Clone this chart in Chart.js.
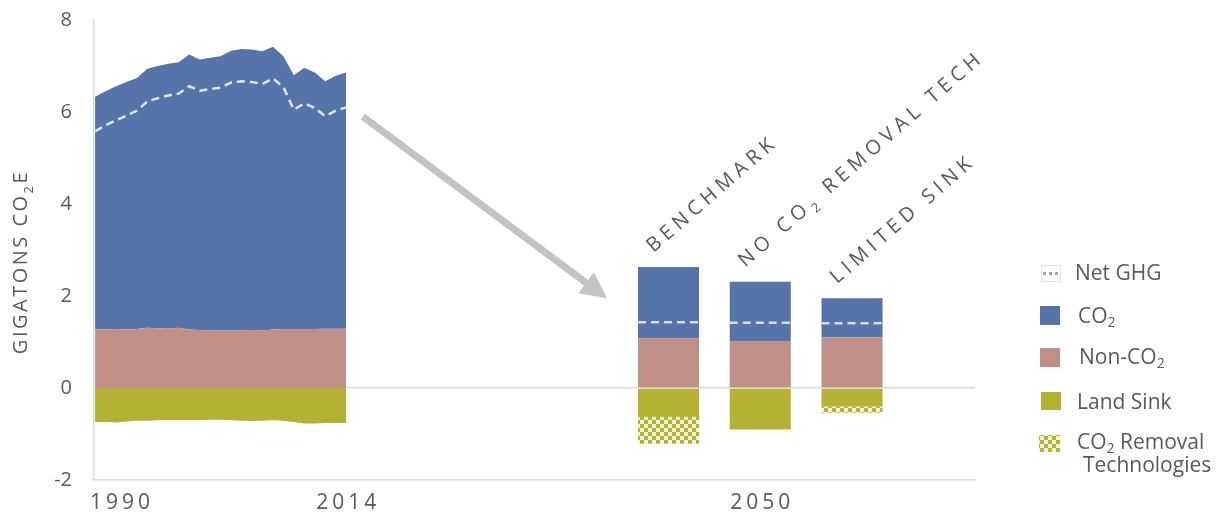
<!DOCTYPE html>
<html>
<head>
<meta charset="utf-8">
<script src="https://cdn.jsdelivr.net/npm/chart.js@4.4.1/dist/chart.umd.min.js"></script>
<style>
  html, body { margin: 0; padding: 0; background: #fff; }
  #wrap { width: 1218px; height: 516px; }
</style>
</head>
<body>
<div id="wrap"><canvas id="myChart" width="1218" height="516"></canvas></div>
<script>
// historical emissions, gigatons CO2e
var years = [1990, 1991, 1992, 1993, 1994, 1995, 1996, 1997, 1998, 1999, 2000, 2001, 2002,
             2003, 2004, 2005, 2006, 2007, 2008, 2009, 2010, 2011, 2012, 2013, 2014];
var histNonCO2 = [1.27, 1.27, 1.28, 1.27, 1.28, 1.31, 1.30, 1.29, 1.31, 1.27, 1.26, 1.25, 1.25,
                  1.25, 1.25, 1.26, 1.25, 1.27, 1.28, 1.28, 1.28, 1.28, 1.29, 1.29, 1.29];
var histCO2 = [5.06, 5.18, 5.28, 5.38, 5.46, 5.63, 5.70, 5.76, 5.77, 5.98, 5.88, 5.93, 5.96,
               6.08, 6.12, 6.10, 6.07, 6.15, 5.93, 5.52, 5.68, 5.58, 5.38, 5.50, 5.57];
var histLandSink = [-0.74, -0.74, -0.75, -0.73, -0.71, -0.71, -0.70, -0.70, -0.70, -0.70, -0.70, -0.69, -0.69,
                    -0.70, -0.71, -0.72, -0.71, -0.70, -0.71, -0.74, -0.77, -0.77, -0.76, -0.76, -0.76];
var histNet = [5.58, 5.71, 5.82, 5.92, 6.03, 6.23, 6.30, 6.36, 6.40, 6.56, 6.46, 6.50, 6.53,
               6.64, 6.67, 6.65, 6.61, 6.73, 6.54, 6.05, 6.19, 6.09, 5.91, 6.03, 6.10];

// 2050 scenarios
var scenarios = [['BENCHMARK'], ['NO CO', '_2', ' REMOVAL TECH'], ['LIMITED SINK']];
var scenNonCO2 = [1.08, 1.02, 1.10];
var scenCO2 = [1.55, 1.29, 0.85];
var scenLandSink = [-0.63, -0.90, -0.40];
var scenRemoval = [-0.58, 0, -0.14];
var scenNet = [1.43, 1.42, 1.41];

var xLabels = ['1990', '2014', '2050'];

var C_CO2 = '#5674a9';
var C_NON = '#c09088';
var C_LAND = '#b3b235';
var TEXT = '#595959';
var FONT = '"Open Sans", sans-serif';

function checker() {
    var c = document.createElement('canvas');
    c.width = 8; c.height = 8;
    var g = c.getContext('2d');
    g.fillStyle = '#f2f2d6';
    g.fillRect(0, 0, 8, 8);
    g.fillStyle = C_LAND;
    g.fillRect(0, 0, 4, 4);
    g.fillRect(4, 4, 4, 4);
    return g.createPattern(c, 'repeat');
}
var pattern = checker();

function pts(vals) {
    var out = [];
    for (var i = 0; i < years.length; i++) out.push({x: years[i], y: vals[i]});
    return out;
}
function scen(vals) {
    var out = [];
    for (var i = 0; i < vals.length; i++) out.push({x: i, y: vals[i]});
    return out;
}

// text with subscript parts ('_' prefix)
function drawRich(ctx, parts, x, y, size, spacing) {
    ctx.letterSpacing = spacing + 'px';
    var cx = x;
    for (var i = 0; i < parts.length; i++) {
        var p = parts[i];
        if (p.charAt(0) === '_') {
            ctx.font = Math.round(size * 0.65) + 'px ' + FONT;
            ctx.fillText(p.substring(1), cx, y + size * 0.28);
            cx += ctx.measureText(p.substring(1)).width;
        } else {
            ctx.font = size + 'px ' + FONT;
            ctx.fillText(p, cx, y);
            cx += ctx.measureText(p).width;
        }
    }
    ctx.letterSpacing = '0px';
}

var extras = {
    id: 'extras',
    afterDatasetsDraw: function (chart) {
        var ctx = chart.ctx;
        var x = chart.scales.x, x2 = chart.scales.x2, y = chart.scales.y;
        ctx.save();

        // net GHG dashes on the scenario bars
        var meta = chart.getDatasetMeta(5);
        ctx.strokeStyle = '#dcdcdc';
        ctx.lineWidth = 2.5;
        ctx.setLineDash([8, 5]);
        for (var i = 0; i < meta.data.length; i++) {
            var el = meta.data[i];
            var yy = y.getPixelForValue(scenNet[i]);
            ctx.beginPath();
            ctx.moveTo(el.x - el.width / 2, yy);
            ctx.lineTo(el.x + el.width / 2 + (i === 2 ? 3 : 0), yy);
            ctx.stroke();
        }
        ctx.setLineDash([]);

        // arrow from history to scenarios
        var ax = x.getPixelForValue(2015.6), ay = y.getPixelForValue(5.9);
        var bx = x2.getPixelForValue(-0.67), by = y.getPixelForValue(1.95);
        var ang = Math.atan2(by - ay, bx - ax);
        var head = 26;
        ctx.strokeStyle = '#c3c3c3';
        ctx.fillStyle = '#c3c3c3';
        ctx.lineWidth = 7;
        ctx.beginPath();
        ctx.moveTo(ax, ay);
        ctx.lineTo(bx - Math.cos(ang) * head * 0.8, by - Math.sin(ang) * head * 0.8);
        ctx.stroke();
        ctx.beginPath();
        ctx.moveTo(bx, by);
        ctx.lineTo(bx - Math.cos(ang) * head + Math.sin(ang) * 13, by - Math.sin(ang) * head - Math.cos(ang) * 13);
        ctx.lineTo(bx - Math.cos(ang) * head - Math.sin(ang) * 13, by - Math.sin(ang) * head + Math.cos(ang) * 13);
        ctx.closePath();
        ctx.fill();

        // x labels
        ctx.fillStyle = TEXT;
        ctx.textBaseline = 'alphabetic';
        ctx.textAlign = 'left';
        ctx.font = '21px ' + FONT;
        ctx.letterSpacing = '4px';
        var lx = [chart.chartArea.left - 4, x.getPixelForValue(2014), x2.getPixelForValue(1)];
        for (var k = 0; k < xLabels.length; k++) {
            var w = ctx.measureText(xLabels[k]).width - 4;
            var left = k === 0 ? lx[k] : lx[k] - w / 2;
            ctx.fillText(xLabels[k], left, 509);
        }
        ctx.letterSpacing = '0px';

        // y title
        ctx.save();
        ctx.translate(27, 262);
        ctx.rotate(-Math.PI / 2);
        var tParts = ['GIGATONS CO', '_2', 'E'];
        ctx.font = '20px ' + FONT;
        ctx.letterSpacing = '2.5px';
        var tw = ctx.measureText('GIGATONS CO').width + ctx.measureText('E').width;
        ctx.font = '13px ' + FONT;
        tw += ctx.measureText('2').width;
        drawRich(ctx, tParts, -tw / 2, 0, 20, 2.5);
        ctx.restore();

        // scenario labels, rotated
        var sMeta = chart.getDatasetMeta(5);
        for (var s = 0; s < scenarios.length; s++) {
            var bar = sMeta.data[s];
            ctx.save();
            ctx.translate(bar.x - 15, bar.y - 14);
            ctx.rotate(-41 * Math.PI / 180);
            drawRich(ctx, scenarios[s], 0, 0, 20, 5);
            ctx.restore();
        }

        // legend
        ctx.textBaseline = 'middle';
        ctx.strokeStyle = '#e3e3e3';
        ctx.lineWidth = 1;
        ctx.strokeRect(1041.5, 265.5, 19, 16);
        ctx.fillStyle = '#a6a6a6';
        ctx.fillRect(1043, 272, 3, 3);
        ctx.fillRect(1049, 272, 3, 3);
        ctx.fillRect(1055, 272, 3, 3);
        ctx.fillStyle = C_CO2;
        ctx.fillRect(1040, 306, 20, 19);
        ctx.fillStyle = C_NON;
        ctx.fillRect(1040, 348, 20, 19);
        ctx.fillStyle = C_LAND;
        ctx.fillRect(1041, 392, 20, 18);
        ctx.fillStyle = pattern;
        ctx.fillRect(1039, 435, 21, 17);
        ctx.fillStyle = TEXT;
        drawRich(ctx, ['Net GHG'], 1075, 274, 21, 0);
        drawRich(ctx, ['CO', '_2'], 1078, 317, 21, 0);
        drawRich(ctx, ['Non-CO', '_2'], 1079, 358, 21, 0);
        drawRich(ctx, ['Land Sink'], 1077, 403, 21, 0);
        drawRich(ctx, ['CO', '_2', ' Removal'], 1077, 443, 21, 0);
        drawRich(ctx, ['Technologies'], 1083, 466, 21, 0);

        ctx.restore();
    }
};

var barOpts = { type: 'bar', xAxisID: 'x2', stack: 'scen', grouped: false,
                categoryPercentage: 1, barPercentage: 0.665, borderWidth: 0 };

new Chart(document.getElementById('myChart'), {
    type: 'line',
    data: {
        datasets: [
            {   // 0 net line history
                label: 'Net GHG', data: pts(histNet), stack: 'net', order: -1,
                borderColor: '#e4e4e4', borderWidth: 2.5, borderDash: [8, 5],
                pointRadius: 0, fill: false, tension: 0
            },
            {   // 1
                label: 'Non-CO2', data: pts(histNonCO2), backgroundColor: C_NON,
                borderWidth: 0, pointRadius: 0, fill: 'origin', tension: 0
            },
            {   // 2
                label: 'CO2', data: pts(histCO2), backgroundColor: C_CO2,
                borderWidth: 0, pointRadius: 0, fill: '-1', tension: 0
            },
            {   // 3
                label: 'Land Sink', data: pts(histLandSink), backgroundColor: C_LAND,
                borderWidth: 0, pointRadius: 0, fill: 'origin', tension: 0
            },
            Object.assign({ label: 'Non-CO2', data: scen(scenNonCO2), backgroundColor: C_NON }, barOpts),
            Object.assign({ label: 'CO2', data: scen(scenCO2), backgroundColor: C_CO2 }, barOpts),
            Object.assign({ label: 'Land Sink', data: scen(scenLandSink), backgroundColor: C_LAND }, barOpts),
            Object.assign({ label: 'CO2 Removal Technologies', data: scen(scenRemoval), backgroundColor: pattern }, barOpts)
        ]
    },
    options: {
        responsive: false,
        animation: false,
        devicePixelRatio: 1,
        layout: { padding: { top: 20, right: 243, bottom: 0, left: 0 } },
        plugins: { legend: { display: false }, tooltip: { enabled: false } },
        scales: {
            x: {
                type: 'linear', min: 1989.9, max: 2074.1,
                grid: { display: false, drawTicks: false },
                border: { color: '#d9d9d9', width: 1.5 },
                ticks: { display: false },
                afterFit: function (s) { s.height = 36; s.paddingLeft = 0; s.paddingRight = 0; }
            },
            x2: {
                type: 'linear', min: -6.26, max: 3.34, display: false, stacked: true,
                offset: false, grid: { offset: false }
            },
            y: {
                min: -2, max: 8, stacked: true,
                border: { color: '#d9d9d9', width: 1.5 },
                grid: {
                    drawTicks: false, lineWidth: 1.5,
                    color: function (c) { return c.tick && c.tick.value === 0 ? '#d9d9d9' : 'rgba(0,0,0,0)'; }
                },
                ticks: { stepSize: 2, padding: 22, color: TEXT, font: { family: 'Open Sans', size: 20 } },
                afterFit: function (s) { s.width = 94; s.paddingTop = 0; s.paddingBottom = 0; }
            }
        }
    },
    plugins: [extras]
});
</script>
</body>
</html>
